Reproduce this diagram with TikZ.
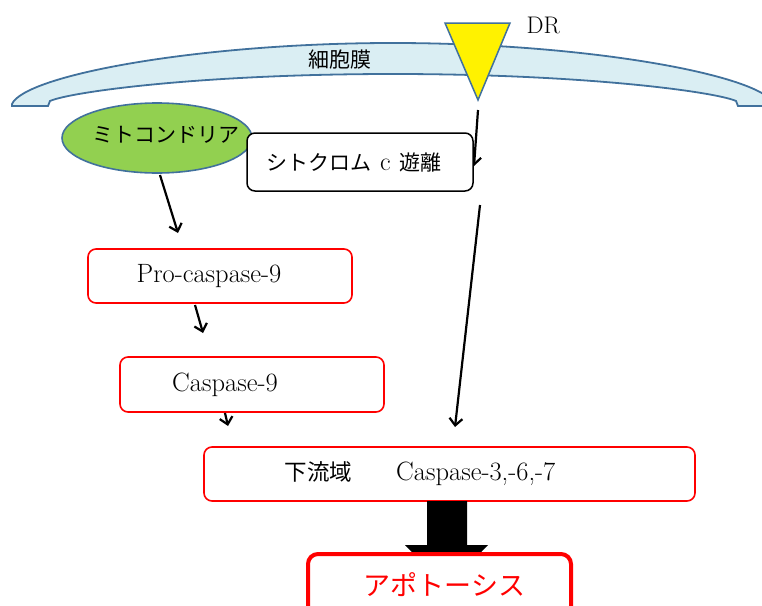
\documentclass[tikz,border=0pt]{standalone}
\usepackage{fontspec}
\newfontfamily\jp{Noto Sans CJK JP}
\usetikzlibrary{arrows.meta,shapes.geometric}
\definecolor{memfill}{HTML}{DAEEF3}
\definecolor{edgeblue}{HTML}{41719C}
\definecolor{mitogreen}{HTML}{92D050}
\definecolor{boxred}{HTML}{FF0000}
\begin{document}
\begin{tikzpicture}[x=1pt,y=-1pt,
  arr/.style={line width=2.2pt,-{Straight Barb[length=7pt,width=13pt]}},
  redbox/.style={draw=boxred,line width=1.6pt,rounded corners=8pt,fill=white,inner sep=0pt},
  latin/.style={font=\fontsize{26.5}{30}\selectfont},
  jptext/.style={font=\jp\fontsize{21}{26}\selectfont}]
\useasboundingbox (0,0) rectangle (762,605);
\clip (0,0) rectangle (762,605);
% membrane
\draw[edgeblue,line width=1.8pt,fill=memfill]
  (12,106) -- (12,104) .. controls (25,75) and (200,43) .. (393,43)
  .. controls (586,43) and (761,75) .. (774,104) -- (774,106) -- (738,106) -- (736,101)
  .. controls (716,92) and (586,74) .. (393,74)
  .. controls (200,74) and (70,92) .. (50,101) -- (48,106) -- cycle;
\node[jptext] (mem) at (340,60) {細胞膜};
% DR receptor
\draw[edgeblue,line width=1.5pt,fill=yellow] (445,23) -- (510,23) -- (478,100) -- cycle;
\node[font=\fontsize{24}{28}\selectfont,anchor=west] (dr) at (523,25) {DR};
% mitochondria
\node[ellipse,draw=edgeblue,line width=1.6pt,fill=mitogreen,minimum width=190pt,minimum height=70pt,inner sep=0pt] (mito) at (157,138) {};
\node[jptext] (mitolab) at (166,135) {ミトコンドリア};
% arrows from DR
\coordinate (dra) at (478,110);
\coordinate (drb) at (474,166);
\draw[arr] (dra) -- (drb);
\coordinate (drc) at (480,205);
\coordinate (drd) at (455,427);
\draw[arr] (drc) -- (drd);
% cytochrome c box
\node[draw=black,line width=1.5pt,rounded corners=8pt,fill=white,minimum width=226pt,minimum height=58pt,inner sep=0pt,jptext] (cyto) at (360,162)
  {\kern-8pt シトクロム\hspace{9pt}{\fontspec{Latin Modern Roman}\fontsize{26}{30}\selectfont c}\hspace{9pt}遊離\kern4pt};
% pathway boxes
\node[redbox,minimum width=264pt,minimum height=54pt,latin] (pro) at (220,276) {Pro-caspase-9\kern22pt};
\node[redbox,minimum width=264pt,minimum height=55pt,latin] (casp) at (252,384.5) {Caspase-9\kern54pt};
\node[redbox,minimum width=491pt,minimum height=54pt] (down) at (449.5,474)
  {{\jp\fontsize{22.5}{26}\selectfont 下流域}\hspace{44pt}{\fontsize{26.5}{30}\selectfont Caspase-3,-6,-7}\kern59pt};
% arrows
\coordinate (m1) at (160,175); \coordinate (m2) at (178,233);
\draw[arr] (m1) -- (m2);
\coordinate (p1) at (195,305); \coordinate (p2) at (203,333);
\draw[arr] (p1) -- (p2);
\coordinate (c1) at (225,413); \coordinate (c2) at (228,426);
\draw[arr] (c1) -- (c2);
% block arrow
\fill[black] (427,501) -- (467,501) -- (467,545) -- (488,545) -- (446.5,588) -- (405,545) -- (427,545) -- cycle;
% apoptosis
\node[draw=boxred,line width=4pt,rounded corners=10pt,fill=white,minimum width=263pt,minimum height=62pt,inner sep=0pt,
  font=\jp\fontsize{27}{32}\selectfont,text=boxred] (apop) at (439.5,585) {\kern10pt アポトーシス};
\end{tikzpicture}
\end{document}
